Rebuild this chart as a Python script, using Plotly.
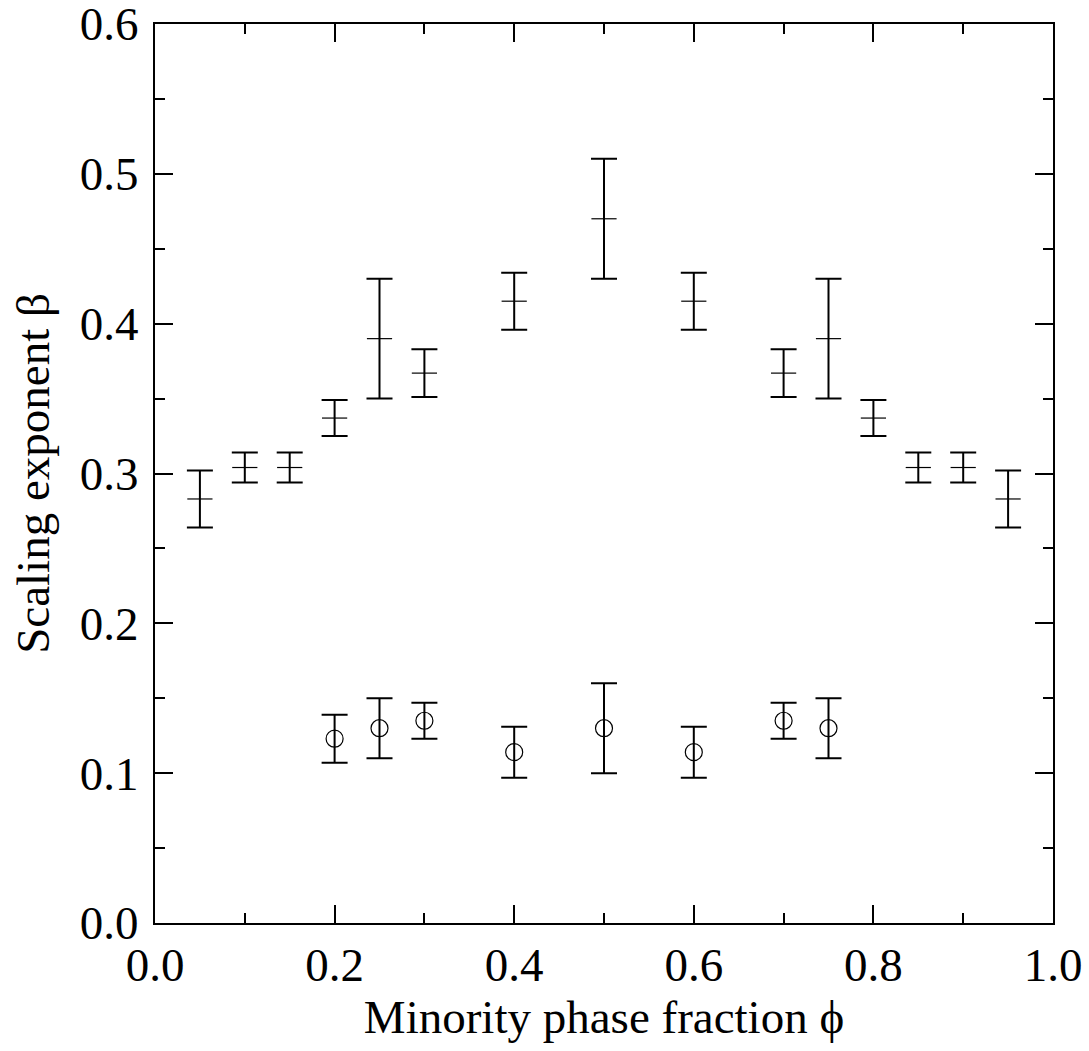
import plotly.graph_objects as go

phi_upper = [0.05, 0.10, 0.15, 0.20, 0.25, 0.30, 0.40, 0.50, 0.60, 0.70, 0.75, 0.80, 0.85, 0.90, 0.95]
beta_upper = [0.283, 0.304, 0.304, 0.337, 0.390, 0.367, 0.415, 0.470, 0.415, 0.367, 0.390, 0.337, 0.304, 0.304, 0.283]
err_upper = [0.019, 0.010, 0.010, 0.012, 0.040, 0.016, 0.019, 0.040, 0.019, 0.016, 0.040, 0.012, 0.010, 0.010, 0.019]

phi_lower = [0.20, 0.25, 0.30, 0.40, 0.50, 0.60, 0.70, 0.75]
beta_lower = [0.123, 0.130, 0.135, 0.114, 0.130, 0.114, 0.135, 0.130]
err_lower = [0.016, 0.020, 0.012, 0.017, 0.030, 0.017, 0.012, 0.020]

x_ticks = [0.0, 0.2, 0.4, 0.6, 0.8, 1.0]
y_ticks = [0.0, 0.1, 0.2, 0.3, 0.4, 0.5, 0.6]

fig = go.Figure()
fig.add_trace(go.Scatter(
    x=phi_upper, y=beta_upper, mode="markers",
    marker=dict(symbol="line-ew", size=18, line=dict(color="black", width=1.2)),
    error_y=dict(type="data", array=err_upper, visible=True, color="black", thickness=2, width=13),
    showlegend=False))
fig.add_trace(go.Scatter(
    x=phi_lower, y=beta_lower, mode="markers",
    marker=dict(symbol="circle-open", size=17, color="black", line=dict(color="black", width=1.2)),
    error_y=dict(type="data", array=err_lower, visible=True, color="black", thickness=2, width=13),
    showlegend=False))

tick_font = dict(family="Liberation Serif, Times New Roman, serif", size=47, color="black")
title_font = dict(family="Liberation Serif, Times New Roman, serif", size=47, color="black")
axis_common = dict(showgrid=False, zeroline=False, showline=True, linecolor="black", linewidth=2,
                   ticks="inside", ticklen=18, tickwidth=2, tickcolor="black", mirror="allticks",
                   tickfont=tick_font, automargin=False, ticklabeloverflow="allow")
fig.update_xaxes(range=[0, 1], tickvals=x_ticks, ticktext=[f"{v:.1f}" for v in x_ticks],
                 minor=dict(ticks="inside", ticklen=10, tickwidth=2, tickcolor="black", dtick=0.1, tick0=0),
                 title=dict(text="Minority phase fraction ϕ", font=title_font, standoff=10),
                 **axis_common)
fig.update_yaxes(range=[0, 0.6], tickvals=y_ticks, ticktext=[f"{v:.1f}" for v in y_ticks],
                 minor=dict(ticks="inside", ticklen=10, tickwidth=2, tickcolor="black", dtick=0.05, tick0=0),
                 title=dict(text="Scaling exponent β", font=title_font, standoff=15),
                 ticklabelstandoff=5,
                 **axis_common)
fig.update_layout(width=1089, height=1051, plot_bgcolor="white", paper_bgcolor="white",
                  margin=dict(l=155, r=36, t=24, b=128), font=tick_font)
fig.write_html("out.html", config={"displayModeBar": False},
               post_script="document.body.style.margin='0';")
